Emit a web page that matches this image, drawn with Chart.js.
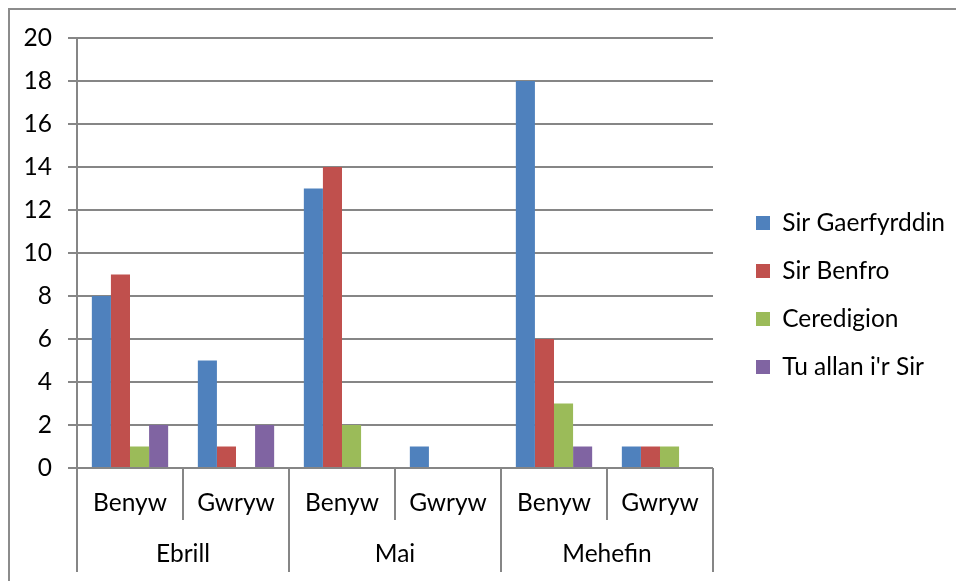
<!DOCTYPE html>
<html>
<head>
<meta charset="utf-8">
<script src="https://cdn.jsdelivr.net/npm/chart.js@4/dist/chart.umd.min.js"></script>
<style>
  html, body { margin: 0; padding: 0; background: #fff; overflow: hidden; }
  #frame { position: absolute; left: 8px; top: 8px; width: 1200px; height: 900px; border-left: 2px solid #8c8c8c; border-top: 2px solid #8c8c8c; box-sizing: border-box; }
  #wrap { position: absolute; left: 0; top: 0; width: 956px; height: 581px; }
</style>
</head>
<body>
<div id="frame"></div>
<div id="wrap"><canvas id="c" width="956" height="581"></canvas></div>
<script>
// ---- data ----
const groups = ['Ebrill', 'Mai', 'Mehefin'];
const subLabels = ['Benyw', 'Gwryw', 'Benyw', 'Gwryw', 'Benyw', 'Gwryw'];
const seriesNames = ['Sir Gaerfyrddin', 'Sir Benfro', 'Ceredigion', "Tu allan i'r Sir"];
const sirGaerfyrddin = [8, 5, 13, 1, 18, 1];
const sirBenfro      = [9, 1, 14, 0, 6, 1];
const ceredigion     = [1, 0, 2, 0, 3, 1];
const tuAllan        = [2, 2, 0, 0, 1, 0];
const yTicks = [0, 2, 4, 6, 8, 10, 12, 14, 16, 18, 20];

// ---- style ----
const colors = ['#4F81BD', '#C0504D', '#9BBB59', '#8064A2'];
const family = 'Lato, "Open Sans", sans-serif';
const gridColor = '#868686';

// font size chosen so the longest legend text roughly matches the reference width
const mctx = document.createElement('canvas').getContext('2d');
mctx.font = '20px ' + family;
const w20 = mctx.measureText('Sir Gaerfyrddin').width;
const fs = Math.round(20 * 162 / w20 * 2) / 2;
mctx.font = fs + 'px ' + family;
let maxW = 0;
seriesNames.forEach(n => { maxW = Math.max(maxW, mctx.measureText(n).width); });

const legendPad = 48 - fs;           // vertical spacing 48px
const y2Width = 756 - legendPad - 713;
// Chart.js adds 10px to the width of a vertical legend
const padRight = Math.max(0, 956 - 713 - y2Width - (legendPad + 14 + fs / 2 + maxW + 10));

const multiLevel = {
  id: 'multiLevel',
  afterDraw(chart) {
    const xs = chart.scales.x;
    const ctx = chart.ctx;
    const half = (xs.getPixelForValue(1) - xs.getPixelForValue(0)) / 2;
    const y0 = chart.chartArea.bottom;
    ctx.save();
    ctx.strokeStyle = gridColor;
    ctx.lineWidth = 2;
    for (let i = 0; i < subLabels.length; i++) {
      const xr = Math.round(xs.getPixelForValue(i) + half);
      if (i % 2 === 0) {
        ctx.beginPath(); ctx.moveTo(xr, y0); ctx.lineTo(xr, y0 + 52); ctx.stroke();
      }
    }
    for (let g = 0; g <= groups.length; g++) {
      const xg = Math.round(xs.getPixelForValue(g * 2) - half);
      ctx.beginPath(); ctx.moveTo(xg, y0); ctx.lineTo(xg, y0 + 104); ctx.stroke();
    }
    ctx.fillStyle = '#000';
    ctx.font = fs + 'px ' + family;
    ctx.textAlign = 'center';
    ctx.textBaseline = 'middle';
    subLabels.forEach((s, i) => {
      ctx.fillText(s, xs.getPixelForValue(i), y0 + 35);
    });
    groups.forEach((g, k) => {
      const xc = (xs.getPixelForValue(k * 2) + xs.getPixelForValue(k * 2 + 1)) / 2;
      ctx.fillText(g, xc, y0 + 86);
    });
    ctx.restore();
  }
};

const datasets = [sirGaerfyrddin, sirBenfro, ceredigion, tuAllan].map((d, i) => ({
  label: seriesNames[i],
  data: d,
  backgroundColor: colors[i],
  borderWidth: 0,
  categoryPercentage: 0.72,
  barPercentage: 1.0
}));

new Chart(document.getElementById('c'), {
  type: 'bar',
  data: { labels: subLabels, datasets },
  options: {
    responsive: false,
    animation: false,
    layout: { padding: { top: 38, bottom: 29, left: 0, right: padRight } },
    plugins: {
      legend: {
        position: 'right',
        align: 'center',
        maxWidth: 400,
        labels: {
          boxWidth: 14, boxHeight: 14,
          padding: legendPad,
          color: '#000',
          font: { family, size: fs }
        }
      },
      tooltip: { enabled: false }
    },
    scales: {
      x: {
        display: true,
        grid: { display: false },
        border: { display: false },
        ticks: { display: false },
        afterFit(s) { s.height = 84; }
      },
      y: {
        min: 0, max: 20,
        afterBuildTicks(s) { s.ticks = yTicks.map(v => ({ value: v })); },
        grid: { color: gridColor, lineWidth: 2, tickLength: 9 },
        border: { color: gridColor, width: 2 },
        ticks: { color: '#000', padding: 16, font: { family, size: fs } },
        afterFit(s) { s.width = 77; }
      },
      y2: {
        position: 'right',
        display: true,
        grid: { display: false },
        border: { display: false },
        ticks: { display: false },
        afterFit(s) { s.width = y2Width; }
      }
    }
  },
  plugins: [multiLevel]
});
</script>
</body>
</html>
